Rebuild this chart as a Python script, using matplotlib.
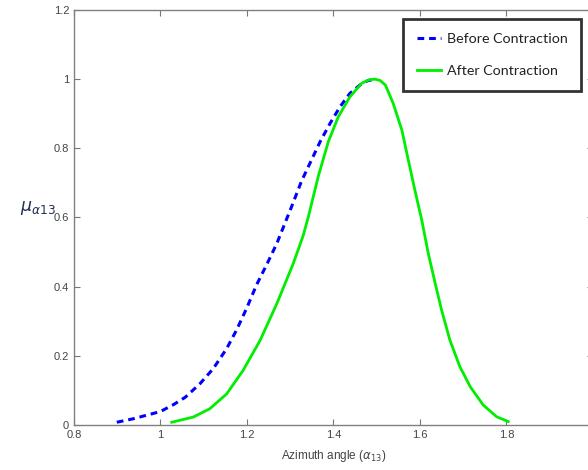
import matplotlib
matplotlib.use("Agg")
import matplotlib.pyplot as plt

# membership curves
before_x = [0.899, 0.937, 1.0, 1.030, 1.057, 1.091, 1.122, 1.153, 1.176, 1.199, 1.222,
            1.246, 1.269, 1.303, 1.326, 1.346, 1.369, 1.392, 1.415, 1.438, 1.461, 1.478,
            1.494]
before_y = [0.008, 0.018, 0.039, 0.059, 0.080, 0.119, 0.163, 0.221, 0.275, 0.337, 0.405,
            0.465, 0.525, 0.631, 0.705, 0.758, 0.819, 0.872, 0.920, 0.959, 0.983, 0.995,
            1.0]
after_x = [1.026, 1.076, 1.114, 1.153, 1.191, 1.230, 1.269, 1.307, 1.330, 1.342, 1.365,
           1.388, 1.411, 1.438, 1.465, 1.482, 1.496, 1.508, 1.520, 1.538, 1.558, 1.573,
           1.588, 1.604, 1.619, 1.635, 1.650, 1.669, 1.692, 1.716, 1.746, 1.777, 1.804]
after_y = [0.008, 0.023, 0.047, 0.090, 0.158, 0.244, 0.351, 0.467, 0.548, 0.603, 0.720,
           0.819, 0.891, 0.949, 0.988, 0.998, 1.0, 0.996, 0.983, 0.930, 0.853, 0.766,
           0.680, 0.593, 0.497, 0.410, 0.332, 0.246, 0.169, 0.111, 0.058, 0.024, 0.010]
xticks = [0.8, 1.0, 1.2, 1.4, 1.6, 1.8]
xtick_labels = ["0.8", "1", "1.2", "1.4", "1.6", "1.8"]
yticks = [0, 0.2, 0.4, 0.6, 0.8, 1.0, 1.2]
ytick_labels = ["0", "0.2", "0.4", "0.6", "0.8", "1", "1.2"]

plt.rcParams["font.family"] = "Liberation Sans"
fig = plt.figure(figsize=(5.88, 4.70), dpi=100)
ax = fig.add_axes([74 / 588, 45 / 470, (593 - 74) / 588, (425 - 10) / 470])

ax.plot(before_x, before_y, color="#0000ff", linestyle=(0, (2.2, 1.6)), linewidth=2.2,
        label="Before Contraction")
ax.plot(after_x, after_y, color="#00ee00", linewidth=2.0, label="After Contraction")

ax.set_xlim(0.8, 2.0)
ax.set_ylim(0, 1.2)
ax.set_xticks(xticks)
ax.set_xticklabels(xtick_labels)
ax.set_yticks(yticks)
ax.set_yticklabels(ytick_labels)
ax.tick_params(direction="in", top=True, right=True, length=4, width=0.8,
               colors="#777777", labelcolor="#444444", labelsize=8)
for s in ax.spines.values():
    s.set_color("#808080")
    s.set_linewidth(1.0)

ax.set_xlabel(r"Azimuth angle ($\alpha_{13}$)", fontsize=8.5, color="#444444", labelpad=6)
fig.text(20 / 588, 1 - 208 / 470, r"$\mu_{\alpha 13}$", fontsize=12.5,
         color="#1f3050", va="center", ha="left", math_fontfamily="dejavusans")

leg = ax.legend(loc="upper left", bbox_to_anchor=(403 / 588, 1 - 19 / 470),
                bbox_transform=fig.transFigure, prop={"family": "Lato", "size": 10.3},
                frameon=True, fancybox=False, handlelength=1.7, handletextpad=0.4,
                labelspacing=1.45, borderpad=0.95, borderaxespad=0)
leg.get_frame().set_edgecolor("black")
leg.get_frame().set_linewidth(2.0)
for t in leg.get_texts():
    t.set_color("#222222")

fig.savefig("out.png", dpi=100)
